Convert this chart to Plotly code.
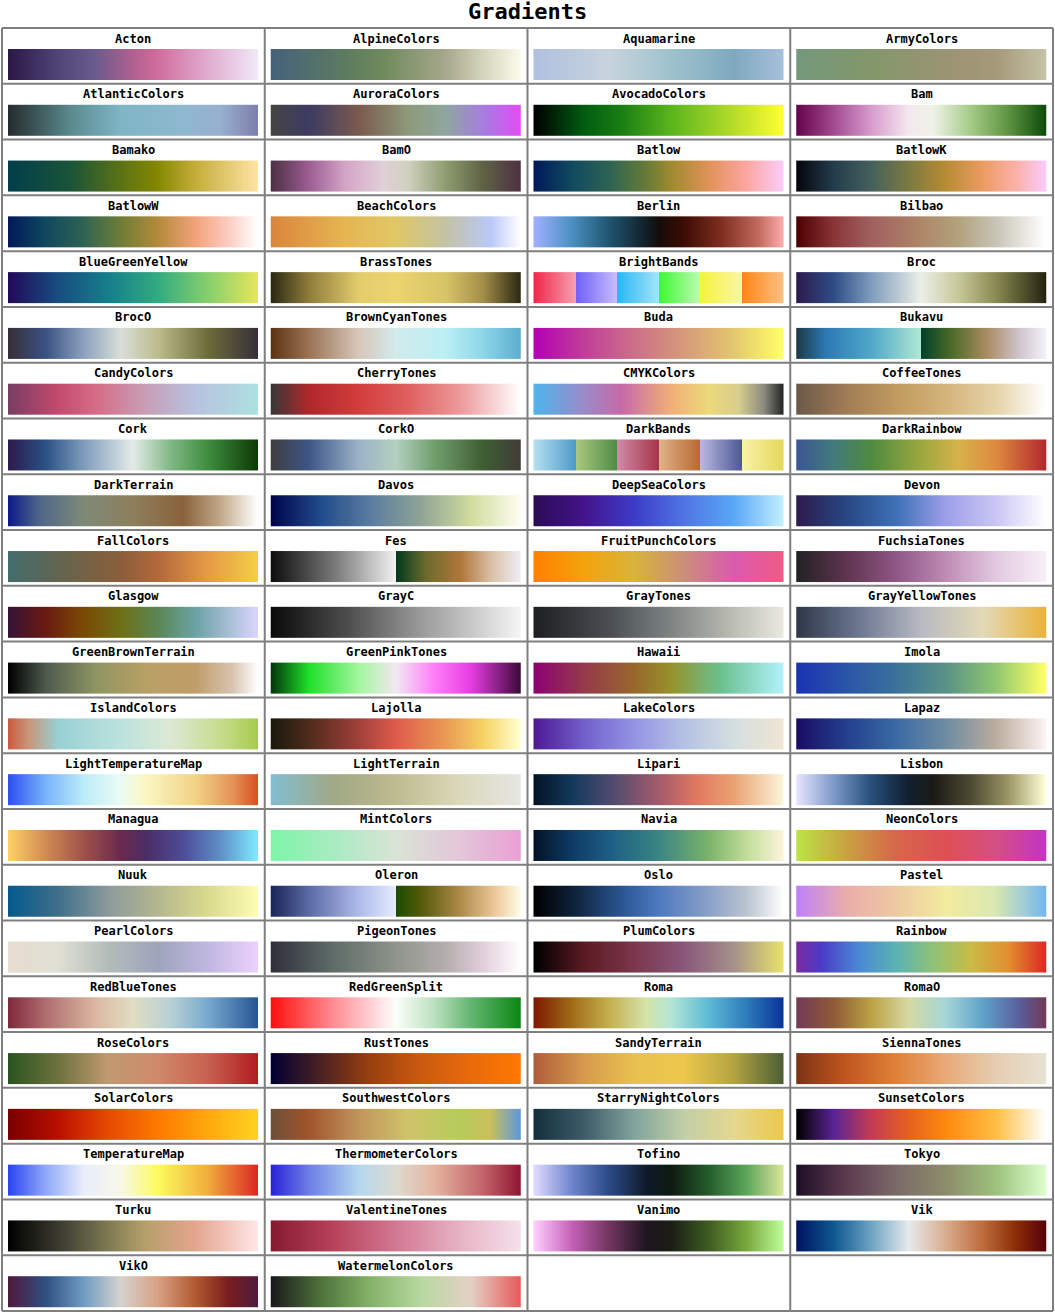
import numpy as np
import plotly.graph_objects as go

# ---------------- data ----------------
gradient_names = [
    "Acton", "AlpineColors", "Aquamarine", "ArmyColors",
    "AtlanticColors", "AuroraColors", "AvocadoColors", "Bam",
    "Bamako", "BamO", "Batlow", "BatlowK",
    "BatlowW", "BeachColors", "Berlin", "Bilbao",
    "BlueGreenYellow", "BrassTones", "BrightBands", "Broc",
    "BrocO", "BrownCyanTones", "Buda", "Bukavu",
    "CandyColors", "CherryTones", "CMYKColors", "CoffeeTones",
    "Cork", "CorkO", "DarkBands", "DarkRainbow",
    "DarkTerrain", "Davos", "DeepSeaColors", "Devon",
    "FallColors", "Fes", "FruitPunchColors", "FuchsiaTones",
    "Glasgow", "GrayC", "GrayTones", "GrayYellowTones",
    "GreenBrownTerrain", "GreenPinkTones", "Hawaii", "Imola",
    "IslandColors", "Lajolla", "LakeColors", "Lapaz",
    "LightTemperatureMap", "LightTerrain", "Lipari", "Lisbon",
    "Managua", "MintColors", "Navia", "NeonColors",
    "Nuuk", "Oleron", "Oslo", "Pastel",
    "PearlColors", "PigeonTones", "PlumColors", "Rainbow",
    "RedBlueTones", "RedGreenSplit", "Roma", "RomaO",
    "RoseColors", "RustTones", "SandyTerrain", "SiennaTones",
    "SolarColors", "SouthwestColors", "StarryNightColors", "SunsetColors",
    "TemperatureMap", "ThermometerColors", "Tofino", "Tokyo",
    "Turku", "ValentineTones", "Vanimo", "Vik",
    "VikO", "WatermelonColors",
]

gradient_stops = [
    # Acton
    [[0, "#2a1746"], [0.2, "#4f4577"], [0.35, "#6a5b8c"], [0.5, "#b0608f"], [0.6, "#cf6d9c"], [0.75, "#dc9cc4"], [1, "#f0e8f7"]],
    # AlpineColors
    [[0, "#45627b"], [0.3, "#5d7b5f"], [0.45, "#6f8a5c"], [0.7, "#a8a88c"], [0.85, "#d5d4bd"], [1, "#fbfbec"]],
    # Aquamarine
    [[0, "#afc0e0"], [0.3, "#c8d3dc"], [0.55, "#9ec2cd"], [0.8, "#7fa9c0"], [1, "#a6c0dc"]],
    # ArmyColors
    [[0, "#74987c"], [0.3, "#83976a"], [0.6, "#9b9473"], [0.8, "#a59979"], [1, "#c4c3a4"]],
    # AtlanticColors
    [[0, "#252d2e"], [0.25, "#5a8a8e"], [0.45, "#7fb5c5"], [0.7, "#8eb8d0"], [0.85, "#97b0d0"], [1, "#7e7fac"]],
    # AuroraColors
    [[0, "#454444"], [0.15, "#3c3b62"], [0.35, "#7a5a4e"], [0.55, "#8d9a7a"], [0.7, "#8fa6a0"], [0.85, "#a67de0"], [1, "#e14cf6"]],
    # AvocadoColors
    [[0, "#000000"], [0.2, "#005d10"], [0.35, "#1a7f12"], [0.55, "#5bb51c"], [0.8, "#b6dc2a"], [1, "#ffff33"]],
    # Bam
    [[0, "#65024b"], [0.15, "#a24b91"], [0.3, "#d79bcc"], [0.45, "#f4e8ef"], [0.55, "#eef2e6"], [0.7, "#a4cb86"], [0.85, "#5e9441"], [1, "#0d4c0a"]],
    # Bamako
    [[0, "#003f4b"], [0.25, "#1a5438"], [0.45, "#5b7214"], [0.6, "#848801"], [0.75, "#c4ad3a"], [1, "#ffe3a5"]],
    # BamO
    [[0, "#4e3043"], [0.15, "#9d5d93"], [0.3, "#d5a6c8"], [0.45, "#e0d0d6"], [0.55, "#cfd1be"], [0.7, "#8f9c6f"], [0.85, "#5e6244"], [1, "#4e3043"]],
    # Batlow
    [[0, "#011959"], [0.15, "#104a5f"], [0.3, "#2d6353"], [0.45, "#677b36"], [0.55, "#a08a2f"], [0.7, "#e09258"], [0.85, "#fca6a0"], [1, "#faccfa"]],
    # BatlowK
    [[0, "#04050a"], [0.15, "#233c4d"], [0.3, "#45615c"], [0.45, "#7a7a40"], [0.6, "#b88b34"], [0.75, "#ec9c62"], [0.88, "#fbb0a8"], [1, "#f9cbfb"]],
    # BatlowW
    [[0, "#011959"], [0.15, "#10485e"], [0.3, "#2e6352"], [0.45, "#6e7d37"], [0.6, "#b38a3a"], [0.75, "#f1a27a"], [0.88, "#fccbc0"], [1, "#fffefe"]],
    # BeachColors
    [[0, "#db853c"], [0.3, "#e5b752"], [0.5, "#e0c766"], [0.7, "#c3c3a4"], [0.88, "#b9c8f8"], [1, "#ffffff"]],
    # Berlin
    [[0, "#9eb0ff"], [0.15, "#4a90c0"], [0.3, "#1f5570"], [0.45, "#111f26"], [0.5, "#140c0a"], [0.6, "#3c0c04"], [0.75, "#7e2e1f"], [0.9, "#c26a5e"], [1, "#ffadad"]],
    # Bilbao
    [[0, "#4d0001"], [0.15, "#8a3538"], [0.3, "#a0605f"], [0.5, "#ad8668"], [0.65, "#b2a27c"], [0.8, "#c7c4b5"], [1, "#ffffff"]],
    # BlueGreenYellow
    [[0, "#21095a"], [0.2, "#174e80"], [0.4, "#157e8a"], [0.6, "#32ab80"], [0.8, "#86cf6c"], [1, "#e5e65c"]],
    # BrassTones
    [[0, "#2a2a12"], [0.15, "#8f7c3a"], [0.35, "#e2cc6c"], [0.5, "#ecd46f"], [0.7, "#d7c466"], [0.85, "#a38e49"], [1, "#2b2912"]],
    # BrightBands
    [[0, "#f0294b"], [1/6, "#f6a1b0"], [1/6, "#7060f8"], [2/6, "#c8c0fb"], [2/6, "#2ab7f6"], [3/6, "#a3e6f6"],
     [3/6, "#3ef832"], [4/6, "#c0fab4"], [4/6, "#f7f23d"], [5/6, "#faf6a6"], [5/6, "#fd8515"], [1, "#fbc183"]],
    # Broc
    [[0, "#2c1a4c"], [0.15, "#2e4d85"], [0.3, "#7e9cbc"], [0.5, "#ebefe7"], [0.65, "#c7c89a"], [0.8, "#8a8a53"], [1, "#262510"]],
    # BrocO
    [[0, "#372f38"], [0.15, "#3a5283"], [0.3, "#8ba0bd"], [0.45, "#d8dfd9"], [0.6, "#bcbc8c"], [0.8, "#6d6c3b"], [1, "#372f38"]],
    # BrownCyanTones
    [[0, "#5b3512"], [0.15, "#9a7354"], [0.35, "#d7c7ba"], [0.5, "#d2ebeb"], [0.7, "#bbeff4"], [0.85, "#8dd6e8"], [1, "#5aaecf"]],
    # Buda
    [[0, "#b301b3"], [0.2, "#c03e98"], [0.4, "#cc6f88"], [0.6, "#d69a7a"], [0.8, "#e3c76e"], [1, "#ffff66"]],
    # Bukavu
    [[0, "#1c3a45"], [0.12, "#2c7ab5"], [0.3, "#4fa8c8"], [0.5, "#b0e8d4"], [0.5, "#00402a"], [0.62, "#4a6a26"],
     [0.76, "#a88a60"], [0.9, "#d1c6cf"], [1, "#f2f2fa"]],
    # CandyColors
    [[0, "#783e62"], [0.2, "#c34a6e"], [0.35, "#d56c86"], [0.55, "#c89eb6"], [0.75, "#b7c2df"], [1, "#aee0e0"]],
    # CherryTones
    [[0, "#3a3636"], [0.15, "#b0282c"], [0.35, "#d23c3b"], [0.55, "#e06060"], [0.75, "#eb9798"], [1, "#ffffff"]],
    # CMYKColors
    [[0, "#4fb4ec"], [0.2, "#9b8ac8"], [0.35, "#c76aa8"], [0.55, "#f0b078"], [0.7, "#ecd97a"], [0.82, "#d7cd8e"], [0.92, "#8c8c80"], [1, "#232323"]],
    # CoffeeTones
    [[0, "#6b5848"], [0.2, "#a07c56"], [0.4, "#c09a5e"], [0.6, "#d4b47a"], [0.8, "#e5d3a8"], [1, "#ffffff"]],
    # Cork
    [[0, "#2c1a4c"], [0.15, "#2a5285"], [0.3, "#7d9bbb"], [0.5, "#e3ebe8"], [0.65, "#82b886"], [0.8, "#3f8e3e"], [1, "#0d3a06"]],
    # CorkO
    [[0, "#3e3e40"], [0.15, "#3d5686"], [0.35, "#9bb2c7"], [0.5, "#b3d0c0"], [0.65, "#73a06e"], [0.85, "#3e5e32"], [1, "#403c35"]],
    # DarkBands
    [[0, "#b2dff0"], [1/6, "#4e9ac8"], [1/6, "#a9c97d"], [2/6, "#4f8b47"], [2/6, "#d18aa8"], [3/6, "#a53449"],
     [3/6, "#e0b287"], [4/6, "#b76831"], [4/6, "#b7b9df"], [5/6, "#4e5795"], [5/6, "#f8f2a8"], [1, "#e4d85a"]],
    # DarkRainbow
    [[0, "#3c5595"], [0.15, "#427a7a"], [0.3, "#4f8a3f"], [0.5, "#9ba83f"], [0.65, "#d6b24c"], [0.8, "#dd8b3e"], [1, "#b3292f"]],
    # DarkTerrain
    [[0, "#0c1a8a"], [0.12, "#4d6488"], [0.3, "#7d8a78"], [0.5, "#8e7e5c"], [0.7, "#89623c"], [0.85, "#c1a888"], [1, "#ffffff"]],
    # Davos
    [[0, "#00054c"], [0.2, "#214c8c"], [0.4, "#5b7c9f"], [0.6, "#8fa495"], [0.8, "#d0db9d"], [1, "#fefef1"]],
    # DeepSeaColors
    [[0, "#2b0b57"], [0.2, "#43148b"], [0.4, "#3c3cc6"], [0.6, "#4f74e3"], [0.8, "#59a7f7"], [1, "#c4f0fe"]],
    # Devon
    [[0, "#2c1a4c"], [0.2, "#284783"], [0.4, "#3d70b6"], [0.6, "#9d9fe8"], [0.8, "#c9c6f4"], [1, "#fffeff"]],
    # FallColors
    [[0, "#426c6c"], [0.25, "#6b634a"], [0.45, "#8a5e3a"], [0.6, "#b2683a"], [0.8, "#e59a44"], [1, "#f4cf45"]],
    # Fes
    [[0, "#0d0d0d"], [0.25, "#777777"], [0.5, "#f2f2f2"], [0.5, "#00391e"], [0.62, "#6b6a2c"], [0.76, "#b0773b"],
     [0.88, "#d9bfa4"], [1, "#eeeef6"]],
    # FruitPunchColors
    [[0, "#ff8000"], [0.2, "#f3a30d"], [0.4, "#d8b43a"], [0.6, "#cb8f7a"], [0.8, "#da5aae"], [1, "#f15a85"]],
    # FuchsiaTones
    [[0, "#222222"], [0.2, "#5e3450"], [0.4, "#8f5684"], [0.6, "#be8cb5"], [0.8, "#e2c8df"], [1, "#f7f0f6"]],
    # Glasgow
    [[0, "#361336"], [0.15, "#6a1a10"], [0.3, "#7a4a05"], [0.45, "#6e6f15"], [0.6, "#5a8755"], [0.75, "#6aa2a4"], [1, "#dbd5fe"]],
    # GrayC
    [[0, "#0a0a0a"], [0.3, "#4c4c4c"], [0.6, "#9a9a9a"], [1, "#f5f5f5"]],
    # GrayTones
    [[0, "#1e1f22"], [0.3, "#4a4e52"], [0.55, "#7f8483"], [0.8, "#bcbdb4"], [1, "#e9e9e0"]],
    # GrayYellowTones
    [[0, "#2f3749"], [0.25, "#6c7790"], [0.5, "#b8bac2"], [0.75, "#e2d9b6"], [1, "#eab23b"]],
    # GreenBrownTerrain
    [[0, "#000000"], [0.15, "#4e5a4e"], [0.35, "#8e9562"], [0.55, "#b8a065"], [0.75, "#c19d69"], [0.9, "#d8c3b0"], [1, "#ffffff"]],
    # GreenPinkTones
    [[0, "#03380b"], [0.15, "#1fe029"], [0.35, "#a2f69c"], [0.5, "#f3e8f1"], [0.65, "#ff7ff8"], [0.8, "#e83de2"], [1, "#3c0a3a"]],
    # Hawaii
    [[0, "#8c0273"], [0.2, "#953a4a"], [0.4, "#98672c"], [0.55, "#96922b"], [0.75, "#6ac190"], [1, "#b3f2fd"]],
    # Imola
    [[0, "#1a33b3"], [0.2, "#2a55a8"], [0.4, "#3a7199"], [0.6, "#5a9287"], [0.8, "#8fc770"], [1, "#ffff66"]],
    # IslandColors
    [[0, "#cc5a3d"], [0.08, "#c79579"], [0.2, "#99d1d4"], [0.45, "#bce2de"], [0.65, "#dce9d4"], [0.85, "#c8dc8e"], [1, "#a7cc4e"]],
    # Lajolla
    [[0, "#19190c"], [0.15, "#4e2b1b"], [0.35, "#a0403a"], [0.5, "#df5b4a"], [0.7, "#e99a54"], [0.85, "#f6d264"], [1, "#ffffd0"]],
    # LakeColors
    [[0, "#4f1a94"], [0.2, "#7160cb"], [0.4, "#9493e3"], [0.6, "#b5c1e4"], [0.8, "#d4dfe0"], [1, "#f0e5d3"]],
    # Lapaz
    [[0, "#1a0c64"], [0.2, "#233f8d"], [0.4, "#3a6aa4"], [0.6, "#6f8ba0"], [0.8, "#b9ad9e"], [1, "#fef2f3"]],
    # LightTemperatureMap
    [[0, "#2d50ef"], [0.15, "#77b4fb"], [0.3, "#bbecf8"], [0.45, "#eafcf5"], [0.55, "#fbf7c2"], [0.75, "#f1d386"], [0.9, "#e59357"], [1, "#d75023"]],
    # LightTerrain
    [[0, "#82bdd1"], [0.25, "#a0a885"], [0.5, "#bfbb90"], [0.75, "#dad8b9"], [1, "#e6e6e3"]],
    # Lipari
    [[0, "#031326"], [0.15, "#13385a"], [0.3, "#4a4a6e"], [0.5, "#a35b6b"], [0.65, "#e07860"], [0.8, "#e9a272"], [1, "#fdf5da"]],
    # Lisbon
    [[0, "#e6e5ff"], [0.15, "#7c99c7"], [0.3, "#274e7a"], [0.45, "#10202f"], [0.55, "#1b1a15"], [0.7, "#4d4a32"], [0.85, "#9b9564"], [1, "#ffffd9"]],
    # Managua
    [[0, "#ffcf67"], [0.15, "#d08b52"], [0.3, "#a0524a"], [0.45, "#6a2a4d"], [0.55, "#4b2d64"], [0.7, "#4c4c97"], [0.85, "#5e8fc7"], [1, "#80eafe"]],
    # MintColors
    [[0, "#7ef5a7"], [0.25, "#a9ebc1"], [0.5, "#d9e3d6"], [0.75, "#e3c7d9"], [1, "#e9a0d4"]],
    # Navia
    [[0, "#031326"], [0.15, "#0e3b65"], [0.3, "#1c5d84"], [0.5, "#3a8682"], [0.7, "#7bb36a"], [0.85, "#c2dc98"], [1, "#fcf5d9"]],
    # NeonColors
    [[0, "#bbe443"], [0.2, "#c9a242"], [0.4, "#d6674a"], [0.6, "#de4f54"], [0.8, "#d35083"], [1, "#c333c4"]],
    # Nuuk
    [[0, "#05598c"], [0.2, "#3e6f8a"], [0.4, "#8c9a9c"], [0.6, "#b4b78e"], [0.8, "#d9da8c"], [1, "#fdfdb3"]],
    # Oleron
    [[0, "#1a2659"], [0.15, "#5b6aa4"], [0.35, "#aebaea"], [0.5, "#e5ecfe"], [0.5, "#1a4c00"], [0.6, "#545a0a"],
     [0.75, "#aa8845"], [0.9, "#eec99b"], [1, "#fdfde6"]],
    # Oslo
    [[0, "#010101"], [0.15, "#0d2036"], [0.35, "#2a5592"], [0.5, "#4d79c1"], [0.7, "#8aa1c8"], [0.85, "#bac3cf"], [1, "#ffffff"]],
    # Pastel
    [[0, "#be80f8"], [0.2, "#ebadab"], [0.4, "#edc9a2"], [0.6, "#f2ec9d"], [0.8, "#d9e8b3"], [1, "#74b7f0"]],
    # PearlColors
    [[0, "#e7dccf"], [0.2, "#dfdfd4"], [0.4, "#b4bcb9"], [0.6, "#9ea4bc"], [0.8, "#c0b7e0"], [1, "#ecd1fd"]],
    # PigeonTones
    [[0, "#302f3b"], [0.25, "#5f6d68"], [0.5, "#8f948c"], [0.7, "#b5aeae"], [0.85, "#e1cfdb"], [1, "#ffffff"]],
    # PlumColors
    [[0, "#000000"], [0.2, "#5b1a23"], [0.4, "#7b364b"], [0.6, "#89577a"], [0.8, "#a4918a"], [1, "#e8e36a"]],
    # Rainbow
    [[0, "#7b2aa0"], [0.1, "#4a3bc7"], [0.25, "#4a88d5"], [0.4, "#5ab3b2"], [0.55, "#8fc278"], [0.7, "#c9bc45"], [0.85, "#e3902f"], [1, "#db2a23"]],
    # RedBlueTones
    [[0, "#7f2a3c"], [0.15, "#b06d6f"], [0.35, "#dbb8a1"], [0.5, "#e0ddc2"], [0.65, "#b8d1d4"], [0.8, "#77aacf"], [1, "#275595"]],
    # RedGreenSplit
    [[0, "#ff0f0f"], [0.25, "#ff8e93"], [0.45, "#ffe7ea"], [0.5, "#fafffa"], [0.65, "#bde2c1"], [0.8, "#64b671"], [1, "#0a8713"]],
    # Roma
    [[0, "#7f1900"], [0.15, "#9f6c17"], [0.3, "#c5af4e"], [0.45, "#d5e4aa"], [0.55, "#b2e5d6"], [0.7, "#5dbad6"], [0.85, "#2e7cbc"], [1, "#0a3297"]],
    # RomaO
    [[0, "#733957"], [0.15, "#8f5b36"], [0.3, "#bba244"], [0.45, "#d6d9a3"], [0.6, "#a4d6d8"], [0.75, "#5fa1c9"], [0.9, "#5a5c9a"], [1, "#733957"]],
    # RoseColors
    [[0, "#2a541f"], [0.2, "#6e723e"], [0.4, "#c09a70"], [0.6, "#d0896a"], [0.8, "#c7614f"], [1, "#b21c21"]],
    # RustTones
    [[0, "#000033"], [0.2, "#4c2222"], [0.4, "#99400e"], [0.6, "#cb5a10"], [0.8, "#e86a0a"], [1, "#ff7800"]],
    # SandyTerrain
    [[0, "#b05e3a"], [0.2, "#d69a4e"], [0.4, "#e8c04f"], [0.6, "#ecc84c"], [0.8, "#b3a442"], [1, "#4a5e34"]],
    # SiennaTones
    [[0, "#7c3414"], [0.2, "#c0561f"], [0.4, "#df8138"], [0.6, "#e8aa78"], [0.8, "#e6cdb0"], [1, "#e8e2d2"]],
    # SolarColors
    [[0, "#770000"], [0.2, "#b90f00"], [0.4, "#e64a00"], [0.6, "#fd7a00"], [0.8, "#ffa80c"], [1, "#fed221"]],
    # SouthwestColors
    [[0, "#6e5036"], [0.15, "#a0542c"], [0.35, "#c1955c"], [0.55, "#cfc46a"], [0.75, "#b7cb5c"], [0.88, "#c9c05c"], [1, "#5c98dc"]],
    # StarryNightColors
    [[0, "#132f3c"], [0.2, "#3d5c68"], [0.4, "#80a49c"], [0.6, "#c2cfa6"], [0.8, "#e4d78f"], [1, "#ecc84a"]],
    # SunsetColors
    [[0, "#000000"], [0.15, "#5a2395"], [0.3, "#c43b53"], [0.45, "#e5611f"], [0.6, "#fd8a0c"], [0.8, "#ffbe44"], [1, "#ffffff"]],
    # TemperatureMap
    [[0, "#2a45f1"], [0.15, "#90a9f8"], [0.3, "#e8edfb"], [0.45, "#f8f8e8"], [0.6, "#fdfb5e"], [0.8, "#efae3c"], [1, "#dc2824"]],
    # ThermometerColors
    [[0, "#2a23d8"], [0.15, "#6d7ee6"], [0.35, "#b3d8ef"], [0.5, "#dcdad0"], [0.65, "#e5b6a0"], [0.85, "#c3636a"], [1, "#8f1632"]],
    # Tofino
    [[0, "#dfd9ff"], [0.15, "#6e85cd"], [0.3, "#2a4a86"], [0.45, "#0f1a2a"], [0.55, "#0d1a0f"], [0.7, "#245d2c"], [0.85, "#5ba55a"], [1, "#dbe69b"]],
    # Tokyo
    [[0, "#1c0e26"], [0.2, "#5c3a4e"], [0.4, "#7b6a68"], [0.6, "#8c8c6a"], [0.8, "#9dc27c"], [1, "#dafecc"]],
    # Turku
    [[0, "#000000"], [0.2, "#3a3a30"], [0.4, "#7d7a52"], [0.55, "#b6a06a"], [0.75, "#e4a58e"], [1, "#ffe6e6"]],
    # ValentineTones
    [[0, "#851a31"], [0.25, "#b7425b"], [0.5, "#d27892"], [0.75, "#e6b1c3"], [1, "#f5e1ea"]],
    # Vanimo
    [[0, "#ffcdfd"], [0.15, "#c560b8"], [0.3, "#71355e"], [0.45, "#1e1620"], [0.55, "#1a1d14"], [0.7, "#3e5c22"], [0.85, "#78a73d"], [1, "#beff9a"]],
    # Vik
    [[0, "#001261"], [0.15, "#0e5890"], [0.3, "#6da3c2"], [0.45, "#e6eaec"], [0.6, "#d8ad8e"], [0.75, "#bd6b3b"], [0.88, "#8c2d07"], [1, "#590008"]],
    # VikO
    [[0, "#4f1a3d"], [0.15, "#2f4f81"], [0.3, "#6e9bc1"], [0.45, "#d6d2ce"], [0.6, "#d8a184"], [0.75, "#b25a30"], [0.88, "#7a1e1e"], [1, "#4f1a3d"]],
    # WatermelonColors
    [[0, "#1a1a1a"], [0.2, "#4e733b"], [0.4, "#86b36a"], [0.6, "#b7d8a0"], [0.8, "#e4d1c6"], [1, "#e75a5a"]],
]

chart_title = "Gradients"

# ---------------- layout constants ----------------
W, H = 1055, 1314
NCOLS = 4
NROWS = int(np.ceil(len(gradient_names) / NCOLS))
GRID_L, GRID_R = 2, 1053
GRID_T, GRID_B = 28, 1311
CELL_W = (GRID_R - GRID_L) / NCOLS
CELL_H = (GRID_B - GRID_T) / NROWS
BAR_INSET_L, BAR_W = 6, 250
BAR_TOP, BAR_BOT = 21, 52
LABEL_Y = 10.5
NSAMP = 250

FONT = "DejaVu Sans Mono"
GRID_COLOR = "#7f7f7f"

fig = go.Figure()
samples = np.linspace(0, 1, NSAMP)

annotations = []
for i, (name, stops) in enumerate(zip(gradient_names, gradient_stops)):
    r, c = divmod(i, NCOLS)
    cell_x = GRID_L + c * CELL_W
    cell_y = GRID_T + r * CELL_H
    x0 = cell_x + BAR_INSET_L
    dx = BAR_W / NSAMP
    y0 = cell_y + BAR_TOP
    y1 = cell_y + BAR_BOT
    fig.add_trace(go.Heatmap(
        z=[samples], x0=x0 + dx / 2, dx=dx,
        y0=(y0 + y1) / 2, dy=(y1 - y0),
        colorscale=stops, zmin=0, zmax=1, showscale=False,
        hoverinfo="skip", zsmooth=False,
    ))
    annotations.append(dict(
        x=cell_x + CELL_W / 2, y=cell_y + LABEL_Y, xref="x", yref="y",
        text="<b>" + name + "</b>", showarrow=False,
        font=dict(family=FONT, size=12, color="black"),
        xanchor="center", yanchor="middle",
    ))

annotations.append(dict(
    x=W / 2, y=11, xref="x", yref="y", text="<b>" + chart_title + "</b>",
    showarrow=False, font=dict(family=FONT, size=22, color="black"),
    xanchor="center", yanchor="middle",
))

shapes = []
for k in range(NROWS + 1):
    y = GRID_T + k * CELL_H
    shapes.append(dict(type="line", xref="x", yref="y", x0=GRID_L, x1=GRID_R, y0=y, y1=y,
                       line=dict(color=GRID_COLOR, width=2)))
for k in range(NCOLS + 1):
    x = GRID_L + k * CELL_W
    shapes.append(dict(type="line", xref="x", yref="y", x0=x, x1=x, y0=GRID_T, y1=GRID_B,
                       line=dict(color=GRID_COLOR, width=2)))

fig.update_layout(
    width=W, height=H,
    margin=dict(l=0, r=0, t=0, b=0),
    paper_bgcolor="white", plot_bgcolor="white",
    xaxis=dict(range=[0, W], visible=False, fixedrange=True),
    yaxis=dict(range=[H, 0], visible=False, fixedrange=True),
    annotations=annotations, shapes=shapes,
    showlegend=False,
)

fig.write_html("out.html")
